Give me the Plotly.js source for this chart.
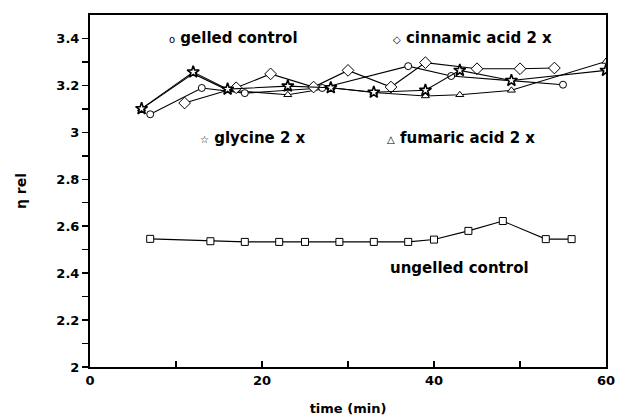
<!DOCTYPE html>
<html>
<head>
<meta charset="utf-8">
<script src="https://cdn.plot.ly/plotly-3.0.1.min.js"></script>
<style>html,body{margin:0;padding:0;background:#fff;}#chart{width:619px;height:420px;}</style>
</head>
<body>
<div id="chart"></div>
<script>
// time (min) and relative viscosity for each sample
const gelledX = [7, 13, 18, 27, 37, 42, 55];
const gelledY = [3.077, 3.189, 3.167, 3.189, 3.282, 3.24, 3.203];

const cinnamicX = [11, 17, 21, 26, 30, 35, 39, 45, 50, 54];
const cinnamicY = [3.125, 3.19, 3.249, 3.193, 3.264, 3.193, 3.297, 3.271, 3.271, 3.274];

const glycineX = [6, 12, 16, 23, 28, 33, 39, 43, 49, 60];
const glycineY = [3.101, 3.257, 3.184, 3.197, 3.19, 3.171, 3.179, 3.264, 3.221, 3.264];

const fumaricX = [6, 12, 16, 23, 28, 33, 39, 43, 49, 60];
const fumaricY = [3.10, 3.25, 3.18, 3.16, 3.19, 3.17, 3.155, 3.16, 3.179, 3.302];

const ungelledX = [7, 14, 18, 22, 25, 29, 33, 37, 40, 44, 48, 53, 56];
const ungelledY = [2.546, 2.536, 2.533, 2.533, 2.533, 2.533, 2.533, 2.533, 2.543, 2.58, 2.622, 2.545, 2.545];

const xTickVals = [0, 10, 20, 30, 40, 50, 60];
const xTickText = ['0', '', '20', '', '40', '', '60'];
const yTickVals = [2, 2.1, 2.2, 2.3, 2.4, 2.5, 2.6, 2.7, 2.8, 2.9, 3, 3.1, 3.2, 3.3, 3.4];
const yTickText = ['2', '', '2.2', '', '2.4', '', '2.6', '', '2.8', '', '3', '', '3.2', '', '3.4'];

const FONT = 'DejaVu Sans, Liberation Sans, Arial, sans-serif';

function series(x, y, symbol, size, lw) {
  return {
    x: x, y: y, type: 'scatter', mode: 'lines+markers',
    line: {color: '#000', width: 1.1},
    marker: {symbol: symbol, size: size, color: '#fff', line: {color: '#000', width: lw}},
    showlegend: false, hoverinfo: 'skip'
  };
}

const data = [
  series(fumaricX, fumaricY, 'triangle-up', 7, 1),
  series(gelledX, gelledY, 'circle', 7, 1),
  series(cinnamicX, cinnamicY, 'diamond', 9, 1),
  series(glycineX, glycineY, 'star', 9, 1.6),
  series(ungelledX, ungelledY, 'square', 7, 1)
];

function ann(text, x, y) {
  return {text: text, x: x, y: y, xref: 'x', yref: 'y', xanchor: 'left', yanchor: 'middle',
          showarrow: false, font: {family: FONT, size: 15, color: '#000', weight: 'bold'}};
}
const small = s => '<span style="font-size:10px;font-weight:normal;font-family:DejaVu Sans">' + s + '</span>';

const layout = {
  width: 619, height: 420,
  margin: {l: 90, r: 13, t: 15, b: 53},
  paper_bgcolor: '#fff', plot_bgcolor: '#fff',
  font: {family: FONT, color: '#000', size: 13, weight: 'bold'},
  xaxis: {
    range: [0, 60], tickvals: xTickVals, ticktext: xTickText,
    ticks: 'inside', ticklen: 6, tickwidth: 1.5, tickcolor: '#000',
    showline: true, linewidth: 2, linecolor: '#000', mirror: true,
    showgrid: false, zeroline: false,
    tickfont: {family: FONT, size: 13, weight: 'bold'},
    title: {text: 'time (min)', font: {family: FONT, size: 13, weight: 'bold'}, standoff: 17}
  },
  yaxis: {
    range: [2, 3.5], tickvals: yTickVals, ticktext: yTickText,
    ticks: 'outside', ticklen: 6, tickwidth: 1.5, tickcolor: '#000',
    showline: true, linewidth: 2, linecolor: '#000', mirror: true,
    showgrid: false, zeroline: false,
    tickfont: {family: FONT, size: 13, weight: 'bold'},
    title: {text: 'η rel', font: {family: FONT, size: 14, weight: 'bold'}, standoff: 26}
  },
  annotations: [
    ann(small('o') + ' gelled control', 9.0, 3.40),
    ann(small('◇') + ' cinnamic acid 2 x', 35.0, 3.40),
    ann(small('☆') + ' glycine 2 x', 12.6, 2.974),
    ann(small('△') + ' fumaric acid 2 x', 34.3, 2.974),
    ann('ungelled control', 34.6, 2.42)
  ]
};

Plotly.newPlot('chart', data, layout, {staticPlot: true});
</script>
</body>
</html>
